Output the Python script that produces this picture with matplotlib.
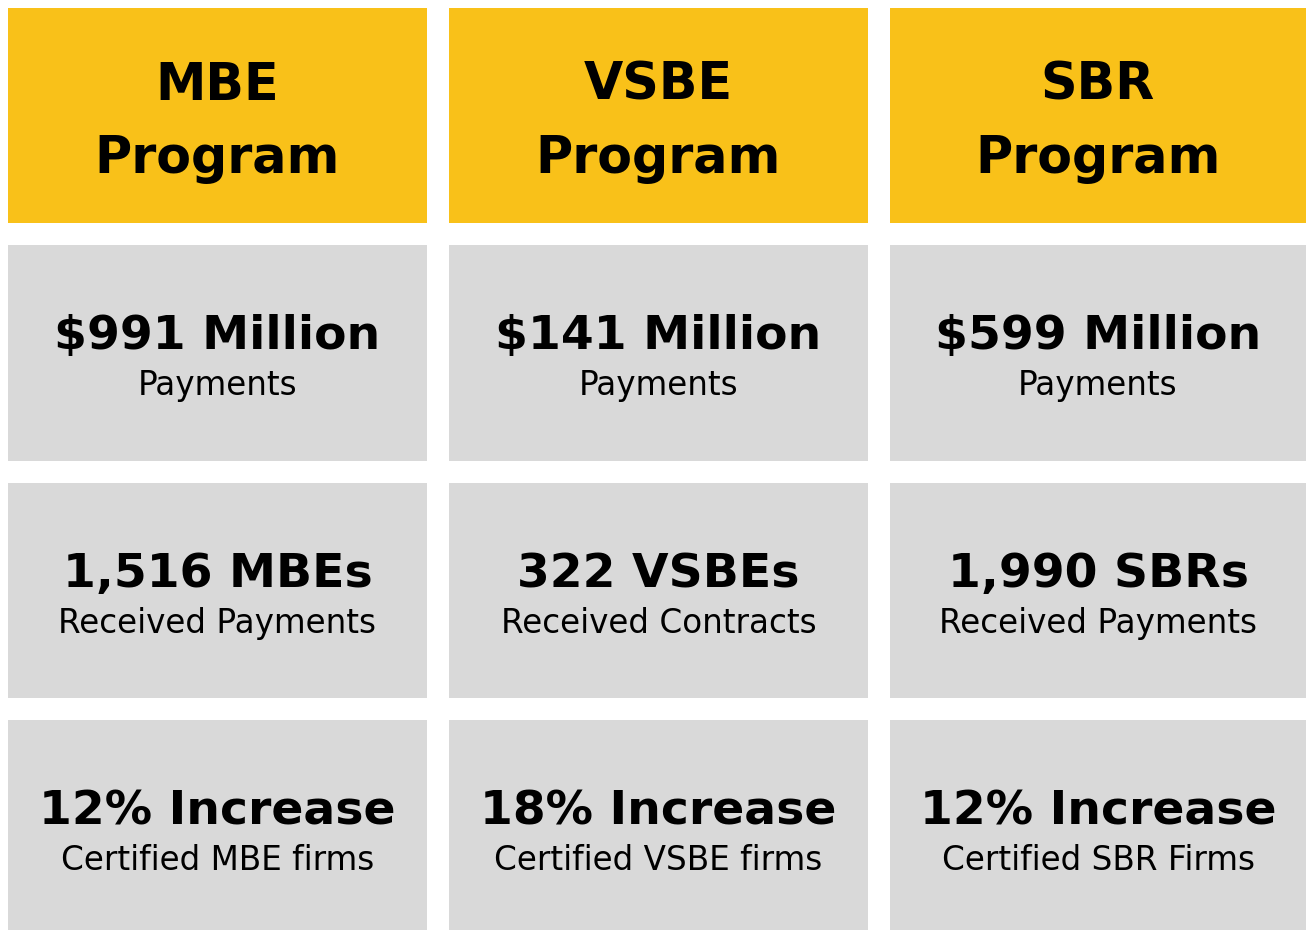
import matplotlib
matplotlib.use("Agg")
import matplotlib.pyplot as plt
from matplotlib.patches import Rectangle

programs = ["MBE\nProgram", "VSBE\nProgram", "SBR\nProgram"]
payments = ["$991 Million", "$141 Million", "$599 Million"]
payments_label = ["Payments", "Payments", "Payments"]
firms = ["1,516 MBEs", "322 VSBEs", "1,990 SBRs"]
firms_label = ["Received Payments", "Received Contracts", "Received Payments"]
increase = ["12% Increase", "18% Increase", "12% Increase"]
increase_label = ["Certified MBE firms", "Certified VSBE firms", "Certified SBR Firms"]

W, H = 1306, 930
fig = plt.figure(figsize=(W / 100, H / 100), dpi=100)
ax = fig.add_axes([0, 0, 1, 1])
ax.set_xlim(0, W)
ax.set_ylim(H, 0)
ax.axis("off")

YELLOW = "#F9C119"
GREY = "#D9D9D9"
col_x = [(8, 427), (449, 868), (890, 1306)]
row_y = [(8, 223), (245, 461), (483, 698), (720, 930)]

for (x0, x1) in col_x:
    for i, (y0, y1) in enumerate(row_y):
        ax.add_patch(Rectangle((x0, y0), x1 - x0, y1 - y0,
                               facecolor=YELLOW if i == 0 else GREY,
                               edgecolor="none"))

head = dict(fontsize=36.5, fontweight="bold", family="DejaVu Sans",
            ha="center", va="baseline", color="black")
big = dict(fontsize=34, fontweight="bold", family="DejaVu Sans",
           ha="center", va="baseline", color="black")
small = dict(fontsize=23.5, family="DejaVu Sans",
             ha="center", va="baseline", color="black")

for c, (x0, x1) in enumerate(col_x):
    cx = (x0 + x1) / 2
    l1, l2 = programs[c].split("\n")
    ax.text(cx, 100, l1, **head)
    ax.text(cx, 173, l2, **head)
    ax.text(cx, 349, payments[c], **big)
    ax.text(cx, 395, payments_label[c], **small)
    ax.text(cx, 587, firms[c], **big)
    ax.text(cx, 633, firms_label[c], **small)
    ax.text(cx, 824, increase[c], **big)
    ax.text(cx, 870, increase_label[c], **small)

fig.savefig("out.png", dpi=100, facecolor="white")
